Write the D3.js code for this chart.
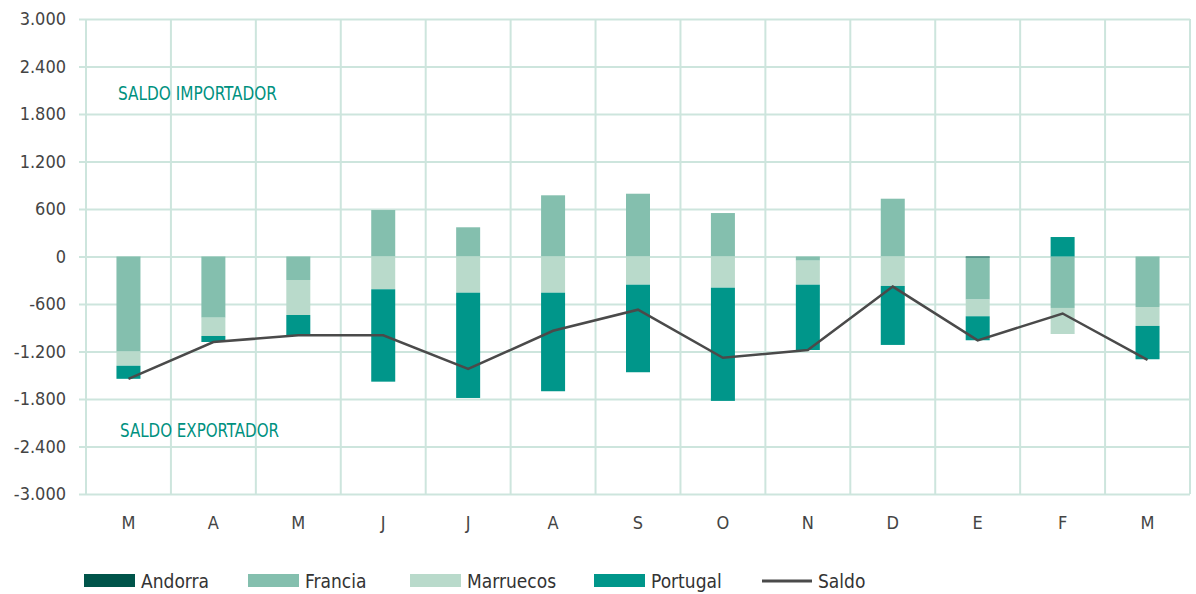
<!DOCTYPE html>
<html>
<head>
<meta charset="utf-8">
<script src="https://cdn.jsdelivr.net/npm/d3@7"></script>
<style>
body { margin:0; background:#fff; }
text { font-family: "Liberation Sans Narrow", "DejaVu Sans Condensed", "Roboto", sans-serif; }
</style>
</head>
<body>
<svg id="chart"></svg>
<script>
// months (Mar .. Mar)
var months = ["M","A","M","J","J","A","S","O","N","D","E","F","M"];
var andorra   = [0, 0, 0, 0, 0, 0, 0, 0, 0, 0, -15, 0, 0];
var francia   = [-1200, -773, -297, 587, 369, 773, 793, 549, -53, 730, -529, -650, -638];
var marruecos = [-180, -231, -442, -414, -457, -457, -356, -394, -303, -372, -211, -329, -239];
var portugal  = [-165, -76, -256, -1167, -1330, -1245, -1106, -1430, -825, -745, -303, 246, -421];
var saldo     = [-1545, -1080, -995, -995, -1420, -938, -672, -1280, -1181, -380, -1060, -720, -1305];
var yTicks = [-3000, -2400, -1800, -1200, -600, 0, 600, 1200, 1800, 2400, 3000];

var series = ["Andorra","Francia","Marruecos","Portugal"];
var colors = {Andorra:"#00544a", Francia:"#84bfae", Marruecos:"#b9dacb", Portugal:"#00968a"};

var screen = {width:1196, height:594};
var margins = {top:19, left:86, right:6, bottom:100};
var graph = {
    width: screen.width - margins.left - margins.right,
    height: 494 - margins.top
};

var svg = d3.select("#chart")
    .attr("width", screen.width)
    .attr("height", screen.height);

var locale = d3.formatLocale({decimal:",", thousands:".", grouping:[3], currency:["",""], minus:"-"});
var fmt = locale.format(",d");

var xScale = d3.scaleBand()
    .domain(d3.range(months.length))
    .range([0, graph.width])
    .padding(0);

var yScale = d3.scaleLinear()
    .domain([-3000, 3000])
    .range([graph.height, 0]);

var g = svg.append("g")
    .attr("transform", "translate(" + margins.left + "," + margins.top + ")");

var gridColor = "#cde5dd";

// horizontal grid + y labels
var yAxis = d3.axisLeft(yScale)
    .tickValues(yTicks)
    .tickSize(graph.width + 7)
    .tickFormat(fmt);

var ya = g.append("g")
    .attr("transform", "translate(" + graph.width + ",0)")
    .call(yAxis);
ya.select(".domain").remove();
ya.selectAll(".tick line").attr("stroke", gridColor).attr("stroke-width", 2);
ya.selectAll(".tick text")
    .attr("x", -(graph.width + 20))
    .attr("fill", "#444")
    .style("font-size", "18px");

// vertical grid at band edges
var edges = d3.range(months.length).map(function(i){ return xScale(i); }).concat([graph.width]);
g.append("g").selectAll("line")
    .data(edges)
    .enter().append("line")
    .attr("x1", function(d){ return d; })
    .attr("x2", function(d){ return d; })
    .attr("y1", 0)
    .attr("y2", graph.height)
    .attr("stroke", gridColor)
    .attr("stroke-width", 2);

// x labels
var xAxis = d3.axisBottom(xScale)
    .tickSize(0)
    .tickFormat(function(i){ return months[i]; });
var xa = g.append("g")
    .attr("transform", "translate(0," + graph.height + ")")
    .call(xAxis);
xa.select(".domain").remove();
xa.selectAll(".tick text")
    .attr("dy", 0)
    .attr("y", 35)
    .attr("fill", "#444")
    .style("font-size", "18px");

// stacked bars
var rows = months.map(function(m, i) {
    return {i:i, Andorra:andorra[i], Francia:francia[i], Marruecos:marruecos[i], Portugal:portugal[i]};
});
var stack = d3.stack()
    .keys(series)
    .offset(d3.stackOffsetDiverging);
var stacked = stack(rows);

var barW = 24;
g.append("g").selectAll("g")
    .data(stacked)
    .enter().append("g")
    .attr("fill", function(s){ return colors[s.key]; })
    .selectAll("rect")
    .data(function(s){ return s; })
    .enter().append("rect")
    .attr("x", function(d){ return xScale(d.data.i) + xScale.bandwidth()/2 - barW/2; })
    .attr("width", barW)
    .attr("y", function(d){ return yScale(Math.max(d[0], d[1])); })
    .attr("height", function(d){ return Math.abs(yScale(d[0]) - yScale(d[1])); });

// saldo line
var line = d3.line()
    .x(function(d, i){ return xScale(i) + xScale.bandwidth()/2; })
    .y(function(d){ return yScale(d); });
g.append("path")
    .datum(saldo)
    .attr("fill", "none")
    .attr("stroke", "#4a4a4a")
    .attr("stroke-width", 2.5)
    .attr("d", line);

// annotations
g.append("text")
    .attr("x", 32).attr("y", yScale(1980))
    .attr("fill", "#00917f")
    .style("font-size", "20px")
    .attr("textLength", 159)
    .attr("lengthAdjust", "spacingAndGlyphs")
    .text("SALDO IMPORTADOR");
g.append("text")
    .attr("x", 34).attr("y", yScale(-2280))
    .attr("fill", "#00917f")
    .style("font-size", "20px")
    .attr("textLength", 159)
    .attr("lengthAdjust", "spacingAndGlyphs")
    .text("SALDO EXPORTADOR");

// legend
var legendItems = [
    {name:"Andorra", x:84, type:"rect"},
    {name:"Francia", x:248, type:"rect"},
    {name:"Marruecos", x:410, type:"rect"},
    {name:"Portugal", x:594, type:"rect"},
    {name:"Saldo", x:762, type:"line"}
];
var legend = svg.append("g").selectAll("g")
    .data(legendItems)
    .enter().append("g")
    .attr("transform", function(d){ return "translate(" + d.x + ",574)"; });
legend.filter(function(d){ return d.type == "rect"; })
    .append("rect")
    .attr("width", 51).attr("height", 13)
    .attr("fill", function(d){ return colors[d.name]; });
legend.filter(function(d){ return d.type == "line"; })
    .append("line")
    .attr("x1", 0).attr("x2", 50).attr("y1", 7).attr("y2", 7)
    .attr("stroke", "#4a4a4a").attr("stroke-width", 3);
legend.append("text")
    .attr("x", function(d){ return d.type == "line" ? 56 : 57; })
    .attr("y", 14)
    .attr("fill", "#333")
    .style("font-size", "19px")
    .text(function(d){ return d.name; });
</script>
</body>
</html>
